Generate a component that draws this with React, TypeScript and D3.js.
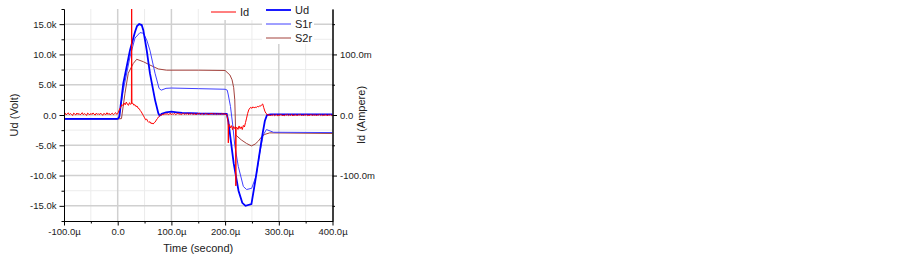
import React, { useEffect, useRef } from 'react'
import * as d3 from 'd3'

// time in µs, voltages in V
const udPoints: [number, number][] = [
  [-100, -650], [0, -650], [3, -300], [10.4, 5200], [22.9, 10700], [32.2, 13700],
  [36, 14700], [40, 15000], [44.7, 14850], [47.7, 14000], [54, 10700], [60, 6900],
  [69.5, 2500], [75.6, 300], [78, -100], [82, 200], [90, 450], [100, 550], [110, 450],
  [120, 350], [150, 250], [203, 200], [206, -1000], [216, -8000], [225, -12500],
  [232, -14500], [238, -15000], [249, -14700], [256, -11000], [263, -7000],
  [269, -3500], [274, -1000], [278, 0], [285, 100], [400, 100],
]

const s1rPoints: [number, number][] = [
  [-100, -650], [0, -650], [3, -200], [10.4, 4100], [22.9, 9600], [32.2, 12700],
  [41.5, 13600], [47.7, 13500], [54, 12400], [60, 10700], [69.5, 6900], [77, 4400],
  [81, 4100], [90, 4400], [100, 4450], [150, 4350], [200, 4250], [204, 4100],
  [206, 3300], [210, 1400], [214, -1500], [218, -5000], [224.6, -8500], [234, -11800],
  [240, -12300], [249.5, -12100], [258, -10000], [264, -6500], [271, -3300],
  [277, -2400], [290, -2850], [400, -2900],
]

const s2rPoints: [number, number][] = [
  [-100, -650], [0, -650], [7, -600], [13.6, 3600], [19.7, 6900], [29, 8500],
  [35.4, 9200], [47.7, 8800], [60, 8250], [75.6, 7600], [91, 7400], [150, 7400],
  [200, 7350], [209, 6600], [213, 5800], [216, 4500], [218, 2500], [219.8, -3300],
  [230, -4100], [240, -4700], [249, -5100], [256, -4800], [262, -4300], [268, -3600],
  [274, -3200], [283, -2950], [400, -3050],
]

// Id in mA, read as runs: start time (µs), step (µs), values
const idRuns: { start: number; step: number; values: number[] }[] = [
  {
    start: -100, step: 2, values: [
      1.5, 3.2, 0.2, 2.1, 3.6, 0.5, 2.4, 1.0, -0.8, 3.0, 1.8, 0.1, 3.3, 0.9, 2.6, 0.3, 1.6,
      3.8, 0.4, 2.3, 1.2, -0.7, 3.1, 1.9, 0.0, 2.7, 0.8, 3.4, 1.7, -0.2, 2.9, 1.1, 2.2, 0.3,
      3.2, 1.4, -0.6, 2.5, 1.8, 0.6, 3.7, 0.9, 2.8, 0.1, 2.0, 3.0, 0.5, 2.2, 3.9, 1.2,
    ],
  },
  { start: 0, step: 2, values: [2.0, 6.5, 10.8, 13.5, 17.2, 15.4, 19.6, 16.8, 21.3, 18.0, 15.9, 20.4, 17.5] },
  { start: 25.5, step: 0.5, values: [18.6, 200, 19.1] },
  {
    start: 28, step: 2, values: [
      19.5, 16.2, 17.0, 13.9, 14.8, 11.2, 10.5, 7.4, 5.1, 1.8, -1.2,
      -4.6, -7.9, -6.8, -10.5, -12.3, -11.0, -14.2, -13.1, -15.0, -12.6, -11.4,
      -8.2, -5.9, -3.1, -1.6, 0.4, -0.5, 1.7, 0.6, 2.3, 1.1,
      2.4, 0.8, 1.6, 3.0, 0.2, 2.1, 1.3, 2.7, 0.5, 1.9, 3.2, 1.0, 2.3, 0.6, 1.7, 2.9, 0.9,
      2.0, 1.4, 3.1, 0.3, 2.5, 1.2, 2.8, 0.7, 1.8, 2.2, 0.1, 2.6, 1.5, 3.0, 0.8, 1.9, 2.4,
      0.5, 1.6, 2.9, 1.1, 2.0, 0.4, 2.7, 1.3, 3.3, 0.9, 1.8, 2.3, 0.6, 2.5, 1.2, 2.1, 0.7,
      2.8, 1.4, 2.0, 0.9, 1.7, -2.5,
    ],
  },
  { start: 205.5, step: 0.5, values: [-12.0, -46, -16.5] },
  { start: 208, step: 2, values: [-15.8, -21.3, -17.6, -24.2, -19.0, -22.5] },
  { start: 219.5, step: 0.5, values: [-20.0, -117, -21.0] },
  {
    start: 222, step: 2, values: [
      -20.4, -23.8, -18.1, -22.6, -19.4, -24.0, -17.2, -19.8, -12.5, -5.2, 2.6, 8.4, 11.3,
      12.6, 10.9, 13.5, 11.7, 13.0, 12.1, 14.3, 13.2, 15.1, 14.6, 16.8, 18.2, 12.0, 6.5,
      2.8, 1.2,
      -0.4, 0.9, -1.6, 0.2, -0.9, 1.1, -1.3, -0.1, 0.7, -1.8, 0.4, -0.6, 1.2, -1.1, 0.0,
      -1.5, 0.6, -0.3, 1.0, -1.2, 0.3, -0.8, 1.3, -1.7, 0.1, -0.5, 0.8, -1.4, 0.5, -0.2,
      1.1, -1.0, 0.2, -1.6, 0.7, -0.4, 0.9, -1.3, 0.0, -0.7, 1.2, -1.1, 0.4, -0.6, 0.8,
      -1.5, 0.3, -0.2, 1.0, -0.9, 0.6, -1.2, 0.1, -0.5, 0.9, -1.4, 0.2, -0.3, 0.7, -1.0,
      0.5, -0.6,
    ],
  },
]

const xTicks = [-100, 0, 100, 200, 300, 400]
const xMinor = [-50, 50, 150, 250, 350]
const yTicks = [-15000, -10000, -5000, 0, 5000, 10000, 15000]
const yMinor = [-17500, -12500, -7500, -2500, 2500, 7500, 12500, 17500]
const idTicks = [-100, 0, 100]
const idMinor = [-150, -50, 50, 150]

const legendLeft = [{ name: 'Id', color: '#ff0000', width: 1 }]
const legendRight = [
  { name: 'Ud', color: '#0000ff', width: 1.8 },
  { name: 'S1r', color: '#4040ff', width: 1 },
  { name: 'S2r', color: '#a3423d', width: 1 },
]

const FONT = "'Liberation Sans', Arial, sans-serif"

const Chart = () => {
  const ref = useRef<SVGSVGElement>(null)

  useEffect(() => {
    document.body.style.margin = '0'
    const svg = d3.select(ref.current)
    svg.selectAll('*').remove()

    const left = 64, right = 332.5, top = 9, bottom = 221

    const x = d3.scaleLinear().domain([-100, 400]).range([left, right])
    const y = d3.scaleLinear().domain([-17500, 17500]).range([bottom, top])
    const yId = d3.scaleLinear().domain([-175, 175]).range([bottom, top])

    // grid
    const grid = svg.append('g')
    grid.append('g').selectAll('line').data(xMinor).join('line')
      .attr('x1', d => x(d)).attr('x2', d => x(d)).attr('y1', top).attr('y2', bottom)
      .attr('stroke', '#ececec').attr('stroke-width', 1)
    grid.append('g').selectAll('line').data(yMinor.filter(v => Math.abs(v) < 17500)).join('line')
      .attr('x1', left).attr('x2', right).attr('y1', d => y(d)).attr('y2', d => y(d))
      .attr('stroke', '#ececec').attr('stroke-width', 1)
    grid.append('g').selectAll('line').data(xTicks.slice(1, -1)).join('line')
      .attr('x1', d => x(d)).attr('x2', d => x(d)).attr('y1', top).attr('y2', bottom)
      .attr('stroke', '#d0d0d0').attr('stroke-width', 1.5)
    grid.append('g').selectAll('line').data(yTicks).join('line')
      .attr('x1', left).attr('x2', right).attr('y1', d => y(d)).attr('y2', d => y(d))
      .attr('stroke', '#d0d0d0').attr('stroke-width', 1.5)

    // legend backgrounds hide the grid
    svg.append('rect').attr('x', 206).attr('y', 2).attr('width', 56).attr('height', 18).attr('fill', '#fff')
    svg.append('rect').attr('x', 262).attr('y', 2).attr('width', 52).attr('height', 42).attr('fill', '#fff')

    // clip for the traces
    svg.append('defs').append('clipPath').attr('id', 'plotClip')
      .append('rect').attr('x', left).attr('y', top).attr('width', right - left).attr('height', bottom - top)

    const plot = svg.append('g').attr('clip-path', 'url(#plotClip)')

    const lineV = d3.line<[number, number]>().x(d => x(d[0])).y(d => y(d[1]))
    const idPoints: [number, number][] = idRuns.flatMap(r => r.values.map((v, i) => [r.start + i * r.step, v] as [number, number]))
    const lineI = d3.line<[number, number]>().x(d => x(d[0])).y(d => yId(d[1]))

    plot.append('path').attr('d', lineV(s2rPoints)).attr('fill', 'none').attr('stroke', '#a3423d').attr('stroke-width', 1)
    plot.append('path').attr('d', lineV(s1rPoints)).attr('fill', 'none').attr('stroke', '#4040ff').attr('stroke-width', 1)
    plot.append('path').attr('d', lineV(udPoints)).attr('fill', 'none').attr('stroke', '#0000ff').attr('stroke-width', 1.8)
    plot.append('path').attr('d', lineI(idPoints)).attr('fill', 'none').attr('stroke', '#ff0000').attr('stroke-width', 1)

    // axes
    const styleAxis = (g: d3.Selection<SVGGElement, unknown, null, undefined>) => {
      g.select('.domain').attr('stroke', '#000')
      g.selectAll('line').attr('stroke', '#000')
      g.selectAll('text').attr('fill', '#222').attr('font-family', FONT).attr('font-size', 9.5)
    }

    svg.append('g').attr('transform', `translate(0,${bottom})`)
      .call(d3.axisBottom(x).tickValues(xMinor).tickSize(2.5).tickSizeOuter(0).tickFormat(() => ''))
      .call(styleAxis)
    svg.append('g').attr('transform', `translate(0,${bottom})`)
      .call(d3.axisBottom(x).tickValues(xTicks).tickSize(4.5).tickSizeOuter(0)
        .tickFormat(d => (+d === 0 ? '0.0' : `${(+d).toFixed(1)}µ`)))
      .call(styleAxis)

    svg.append('g').attr('transform', `translate(${left},0)`)
      .call(d3.axisLeft(y).tickValues(yMinor).tickSize(2.5).tickSizeOuter(0).tickFormat(() => ''))
      .call(styleAxis)
    svg.append('g').attr('transform', `translate(${left},0)`)
      .call(d3.axisLeft(y).tickValues(yTicks).tickSize(4.5).tickSizeOuter(0)
        .tickFormat(d => (+d === 0 ? '0.0' : `${(+d / 1000).toFixed(1)}k`)))
      .call(styleAxis)

    svg.append('g').attr('transform', `translate(${right},0)`)
      .call(d3.axisRight(yId).tickValues(idMinor).tickSize(2.5).tickSizeOuter(0).tickFormat(() => ''))
      .call(styleAxis)
    svg.append('g').attr('transform', `translate(${right},0)`)
      .call(d3.axisRight(yId).tickValues(idTicks).tickSize(4.5).tickSizeOuter(0)
        .tickFormat(d => (+d === 0 ? '0.0' : `${(+d).toFixed(1)}m`)))
      .call(styleAxis)

    // axis titles
    svg.append('text').attr('x', (left + right) / 2).attr('y', 252)
      .attr('text-anchor', 'middle').attr('font-family', FONT).attr('font-size', 11).attr('fill', '#222')
      .text('Time (second)')
    svg.append('text').attr('transform', `translate(18,${(top + bottom) / 2}) rotate(-90)`)
      .attr('text-anchor', 'middle').attr('font-family', FONT).attr('font-size', 11).attr('fill', '#222')
      .text('Ud (Volt)')
    svg.append('text').attr('transform', `translate(365,${(top + bottom) / 2}) rotate(-90)`)
      .attr('text-anchor', 'middle').attr('font-family', FONT).attr('font-size', 11).attr('fill', '#222')
      .text('Id (Ampere)')

    // legends
    const legend = (items: typeof legendRight, x0: number, y0: number) => {
      const g = svg.append('g').selectAll('g').data(items).join('g')
        .attr('transform', (d, i) => `translate(${x0},${y0 + i * 14})`)
      g.append('line').attr('x1', 0).attr('x2', 25).attr('y1', 0).attr('y2', 0)
        .attr('stroke', d => d.color).attr('stroke-width', d => d.width)
      g.append('text').attr('x', 29).attr('y', 0).attr('dy', '0.35em')
        .attr('font-family', FONT).attr('font-size', 11).attr('fill', '#222')
        .text(d => d.name)
    }
    legend(legendLeft, 211, 12)
    legend(legendRight, 266, 10)
  })

  return <svg ref={ref} width={903} height={260} style={{ display: 'block', background: '#fff' }} />
}

export default function App() {
  return <Chart />
}
